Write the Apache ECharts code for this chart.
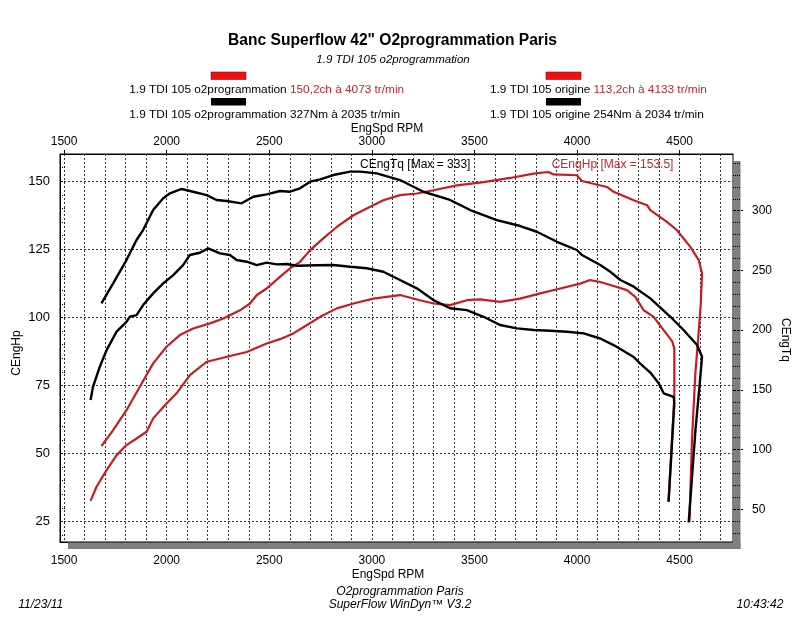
<!DOCTYPE html>
<html><head><meta charset="utf-8">
<script src="https://cdn.jsdelivr.net/npm/echarts@6/dist/echarts.min.js"></script>
<style>html,body{margin:0;padding:0;background:#fff}#c{width:800px;height:617px}</style>
</head><body><div id="c"></div>
<script>
// ---- tick / grid values ----
const rpmLabelTicks = [1500, 2000, 2500, 3000, 3500, 4000, 4500];
const rpmGridLines = [1500,1600,1700,1800,1900,2000,2100,2200,2300,2400,2500,2600,2700,2800,2900,3000,3100,3200,3300,3400,3500,3600,3700,3800,3900,4000,4100,4200,4300,4400,4500,4600,4700];
const hpLabelTicks = [25, 50, 75, 100, 125, 150];
const hpMinorTicks = [20,25,30,35,40,45,50,55,60,65,70,75,80,85,90,95,100,105,110,115,120,125,130,135,140,145,150,155,160];
const tqLabelTicks = [50, 100, 150, 200, 250, 300];
const tqMinorTicks = [30,40,50,60,70,80,90,100,110,120,130,140,150,160,170,180,190,200,210,220,230,240,250,260,270,280,290,300,310,320,330,340];

// ---- 1.9 TDI 105 o2programmation : CEngHp ----
const hpO2Rpm = [1682,1739,1804,1869,1934,1999,2064,2129,2211,2276,2357,2406,2439,2487,2552,2601,2650,2699,2763,2829,2910,2975,3056,3137,3219,3300,3414,3544,3674,3788,3861,3885,3999,4024,4146,4178,4276,4341,4357,4438,4487,4552,4593,4609,4603,4590,4577,4560,4548];
const hpO2 = [52.7,58.6,65.9,74.5,83.1,89.2,93.5,95.9,97.8,99.6,102.6,105.1,108.2,110.6,114.9,118.0,120.4,124.7,129.0,133.2,137.5,140.0,143.0,144.9,145.5,146.7,148.5,149.7,151.2,152.8,153.4,152.5,152.2,150.1,147.9,146.1,143.0,141.2,139.4,135.1,132.0,125.9,121.0,116.1,105.0,92.0,80.0,55.0,25.0];

// ---- 1.9 TDI 105 origine : CEngHp ----
const hpOrigRpm = [1629,1658,1707,1756,1804,1853,1902,1934,1999,2048,2113,2195,2260,2324,2390,2487,2552,2617,2682,2748,2829,2910,3007,3137,3235,3300,3381,3463,3528,3625,3723,3820,3918,4015,4064,4113,4178,4243,4284,4325,4373,4422,4463,4474,4474,4446];
const hpOrig = [32.6,37.8,43.9,49.4,53.1,55.5,58.0,62.9,68.4,72.1,78.8,83.7,84.9,86.1,87.3,90.4,92.0,94.1,97.1,100.2,103.3,105.1,106.9,108.2,106.3,105.1,104.5,106.3,106.6,105.7,106.9,108.8,110.6,112.4,113.7,113.0,111.5,110.0,107.5,102.6,100.2,95.3,91.3,88.5,70.8,32.3];

// ---- 1.9 TDI 105 o2programmation : CEngTq ----
const tqO2Rpm = [1682,1739,1804,1853,1885,1934,1983,2016,2073,2129,2195,2243,2292,2365,2422,2487,2552,2601,2650,2699,2748,2812,2894,2943,3024,3137,3251,3381,3479,3609,3723,3804,3902,3999,4024,4113,4162,4211,4276,4357,4455,4519,4585,4609,4598,4577,4544];
const tqO2 = [222.4,239.2,258.7,275.5,283.8,300.6,310.4,314.6,318.2,315.9,313.1,309.0,308.1,306.2,311.7,313.7,316.5,315.9,318.8,324.3,326.3,329.9,332.7,332.7,331.3,325.7,315.9,309.0,300.6,292.2,287.2,282.4,274.0,267.1,262.9,254.5,248.9,242.0,236.4,226.6,211.2,200.1,187.6,177.7,155.5,116.3,38.9];

// ---- 1.9 TDI 105 origine : CEngTq ----
const tqOrigRpm = [1629,1641,1674,1707,1756,1804,1820,1853,1885,1934,1983,2032,2080,2113,2162,2202,2260,2308,2341,2390,2439,2487,2536,2585,2634,2731,2812,2894,2975,3056,3137,3219,3300,3381,3463,3544,3625,3707,3788,3869,3951,4032,4113,4178,4276,4308,4357,4398,4422,4471,4474,4446];
const tqOrig = [141.5,152.6,169.4,183.3,198.7,207.0,211.2,212.6,221.0,230.8,239.2,246.1,254.5,262.9,264.8,268.5,264.3,262.9,258.7,257.3,254.5,256.5,255.1,255.4,253.9,254.3,254.5,253.1,251.8,248.9,242.0,235.0,225.2,218.3,216.8,211.2,204.3,201.5,200.1,199.5,198.7,197.3,193.0,187.5,177.5,172.0,164.5,155.5,147.1,144.2,138.7,56.3];

const RED = '#c41e24';
const RED_TXT = '#c4262e';
const FONT = '"Liberation Sans", Arial, sans-serif';
const GRID_LINE = {type: [2, 2], color: '#333', width: 1};
const plain = v => String(v);

const pairs = (xs, ys) => xs.map((x, i) => [x, ys[i]]);

const chart = echarts.init(document.getElementById('c'), null, {renderer: 'canvas'});

function txt(x, y, text, opt) {
  opt = opt || {};
  return {
    type: 'text', x: x, y: y, rotation: opt.rotation || 0, z: 20,
    style: {
      text: text,
      font: (opt.style || '') + ' ' + (opt.size || 12) + 'px ' + FONT,
      fill: opt.color || '#000',
      textAlign: opt.align || 'left',
      textVerticalAlign: 'middle'
    }
  };
}
function richRow(x, y, blackPart, redPart) {
  return {
    type: 'text', x: x, y: y, z: 20,
    style: {
      text: '{k|' + blackPart + ' }{r|' + redPart + '}',
      font: '11.8px ' + FONT,
      textAlign: 'left',
      textVerticalAlign: 'middle',
      rich: {
        k: {fill: '#000', fontSize: 11.8, fontFamily: FONT},
        r: {fill: RED_TXT, fontSize: 11.8, fontFamily: FONT}
      }
    }
  };
}

const option = {
  animation: false,
  backgroundColor: '#fff',
  textStyle: {fontFamily: FONT},
  grid: {left: 60, right: 67, top: 154, bottom: 75, show: true, borderColor: '#000', borderWidth: 1, containLabel: false},
  xAxis: [
    {
      type: 'value', position: 'bottom', min: 1480, max: 4760,
      axisLine: {show: true, lineStyle: {color: '#000'}},
      axisTick: {show: false, customValues: rpmGridLines},
      axisLabel: {customValues: rpmLabelTicks, formatter: plain, color: '#000', fontSize: 12, margin: 13, fontFamily: FONT},
      splitLine: {show: true, lineStyle: GRID_LINE}
    },
    {
      type: 'value', position: 'top', min: 1480, max: 4760,
      axisLine: {show: true, lineStyle: {color: '#000'}},
      axisTick: {show: true, customValues: rpmLabelTicks, length: 4, lineStyle: {color: '#000'}},
      axisLabel: {customValues: rpmLabelTicks, formatter: plain, color: '#000', fontSize: 12, margin: 6, fontFamily: FONT},
      splitLine: {show: false}
    }
  ],
  yAxis: [
    {
      type: 'value', position: 'left', min: 17.5, max: 160,
      axisLine: {show: true, lineStyle: {color: '#000'}},
      axisTick: {show: true, inside: true, length: 5, customValues: hpMinorTicks, lineStyle: {color: '#000', type: [1, 1]}},
      axisLabel: {customValues: hpLabelTicks, formatter: plain, color: '#000', fontSize: 13, margin: 10, fontFamily: FONT},
      splitLine: {show: false}
    },
    {
      type: 'value', position: 'right', min: 22.6, max: 347.5, z: 10,
      axisLine: {show: false},
      axisTick: {show: true, length: 7, customValues: tqMinorTicks, lineStyle: {color: '#000', type: [1, 1]}},
      axisLabel: {customValues: tqLabelTicks, formatter: plain, color: '#000', fontSize: 12, margin: 19, fontFamily: FONT},
      splitLine: {show: false}
    },
    {
      type: 'value', position: 'left', min: 17.5, max: 160,
      axisLine: {show: false},
      axisTick: {show: false, customValues: hpLabelTicks},
      axisLabel: {show: false},
      splitLine: {show: true, lineStyle: GRID_LINE}
    },
    {
      type: 'value', position: 'right', min: 22.6, max: 347.5, z: 10,
      axisLine: {show: false},
      axisTick: {show: true, length: 12, customValues: tqLabelTicks, lineStyle: {color: '#000', type: [2, 2]}},
      axisLabel: {show: false},
      splitLine: {show: false}
    }
  ],
  series: [
    {name: 'CEngHp origine', type: 'line', xAxisIndex: 0, yAxisIndex: 0, data: pairs(hpOrigRpm, hpOrig),
     showSymbol: false, symbol: 'none', silent: true, lineStyle: {color: RED, width: 2.2}, itemStyle: {color: RED}},
    {name: 'CEngHp o2programmation', type: 'line', xAxisIndex: 0, yAxisIndex: 0, data: pairs(hpO2Rpm, hpO2),
     showSymbol: false, symbol: 'none', silent: true, lineStyle: {color: RED, width: 2.2}, itemStyle: {color: RED}},
    {name: 'CEngTq origine', type: 'line', xAxisIndex: 0, yAxisIndex: 1, data: pairs(tqOrigRpm, tqOrig),
     showSymbol: false, symbol: 'none', silent: true, lineStyle: {color: '#000', width: 2.4}, itemStyle: {color: '#000'}},
    {name: 'CEngTq o2programmation', type: 'line', xAxisIndex: 0, yAxisIndex: 1, data: pairs(tqO2Rpm, tqO2),
     showSymbol: false, symbol: 'none', silent: true, lineStyle: {color: '#000', width: 2.4}, itemStyle: {color: '#000'}}
  ],
  graphic: [
    // frame shadow
    {type: 'rect', shape: {x: 733.5, y: 161, width: 7, height: 388}, style: {fill: '#808080'}, z: 1, silent: true},
    {type: 'rect', shape: {x: 68, y: 542.5, width: 672.5, height: 6.5}, style: {fill: '#808080'}, z: 1, silent: true},
    // header
    txt(392.5, 41, 'Banc Superflow 42" O2programmation Paris', {style: 'bold', size: 15.6, align: 'center'}),
    txt(393, 59.5, '1.9 TDI 105 o2programmation', {style: 'italic', size: 11.5, align: 'center'}),
    {type: 'rect', shape: {x: 211, y: 72, width: 35, height: 7.5}, style: {fill: '#e81212', stroke: '#a00', lineWidth: 0.6}, z: 20},
    {type: 'rect', shape: {x: 211, y: 98, width: 35, height: 7.5}, style: {fill: '#000'}, z: 20},
    {type: 'rect', shape: {x: 546, y: 72, width: 35, height: 7.5}, style: {fill: '#e81212', stroke: '#a00', lineWidth: 0.6}, z: 20},
    {type: 'rect', shape: {x: 546, y: 98, width: 35, height: 7.5}, style: {fill: '#000'}, z: 20},
    richRow(129.3, 89.5, '1.9 TDI 105 o2programmation', '150,2ch à 4073 tr/min'),
    txt(129.3, 115, '1.9 TDI 105 o2programmation 327Nm à 2035 tr/min', {size: 11.8}),
    richRow(490, 89.5, '1.9 TDI 105 origine', '113,2ch à 4133 tr/min'),
    txt(490, 115, '1.9 TDI 105 origine 254Nm à 2034 tr/min', {size: 11.8}),
    // axis names
    txt(387, 129, 'EngSpd RPM', {align: 'center'}),
    txt(388, 574.5, 'EngSpd RPM', {align: 'center'}),
    txt(17, 353, 'CEngHp', {align: 'center', rotation: Math.PI / 2}),
    txt(785, 340, 'CEngTq', {align: 'center', rotation: -Math.PI / 2}),
    // in-plot labels
    txt(360, 164.5, 'CEngTq [Max = 333]'),
    txt(551.7, 164.5, 'CEngHp [Max = 153.5]', {color: RED_TXT}),
    // footer
    txt(400, 592, 'O2programmation Paris', {style: 'italic', align: 'center'}),
    txt(400, 605, 'SuperFlow WinDyn™ V3.2', {style: 'italic', align: 'center'}),
    txt(18.3, 605, '11/23/11', {style: 'italic'}),
    txt(783.3, 605, '10:43:42', {style: 'italic', align: 'right'})
  ]
};
chart.setOption(option);
</script></body></html>
